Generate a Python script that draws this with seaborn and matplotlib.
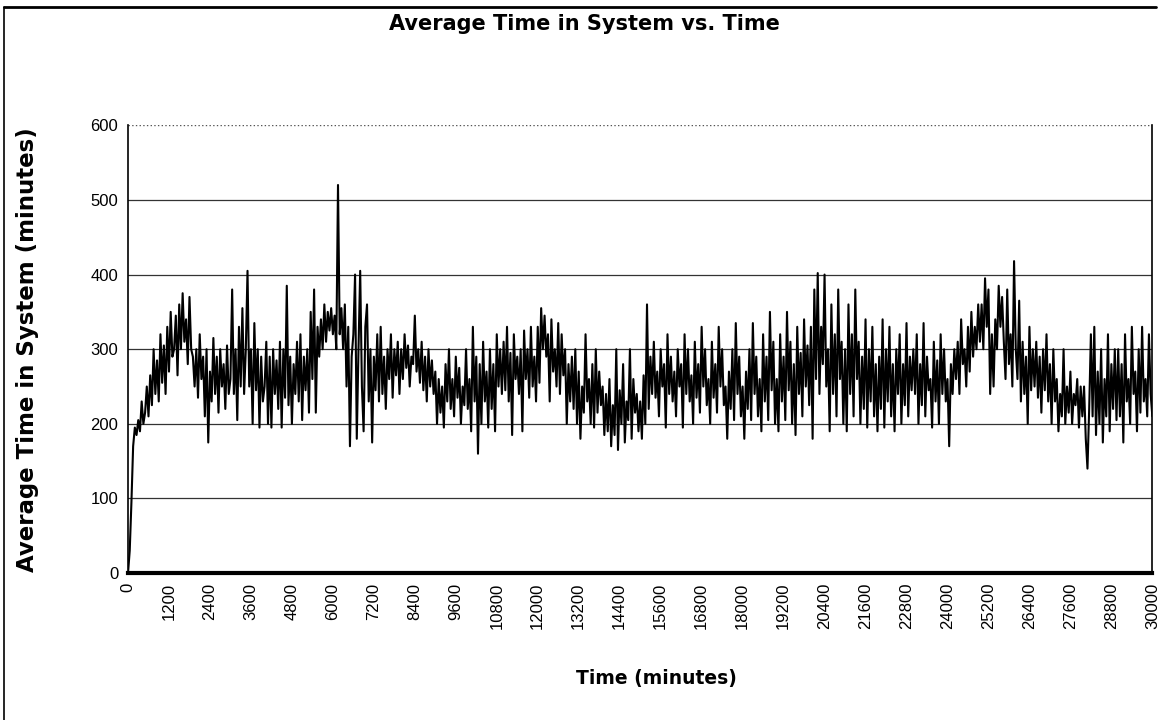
import numpy as np
import pandas as pd
import matplotlib
matplotlib.use("Agg")
import matplotlib.pyplot as plt
import seaborn as sns
from matplotlib.lines import Line2D

# sample times (minutes), one reading every 50 minutes
time_min = np.arange(0, 30001, 50)

# average time in system, 20 readings per 1000 minutes
avg_time = [
    0, 30, 95, 170, 195, 185, 205, 190, 230, 200, 215, 250, 210, 265, 225, 300, 240, 285, 230, 320,
    255, 305, 240, 330, 270, 350, 290, 300, 345, 265, 360, 300, 375, 310, 340, 280, 370, 300, 290, 250,
    300, 235, 320, 260, 290, 210, 300, 175, 270, 230, 315, 240, 290, 215, 300, 250, 280, 220, 305, 240,
    260, 380, 240, 300, 205, 330, 250, 355, 240, 300, 405, 250, 300, 200, 335, 245, 300, 195, 290, 230,
    250, 310, 200, 290, 195, 300, 240, 285, 220, 310, 195, 300, 235, 385, 225, 290, 200, 280, 240, 310,
    230, 320, 205, 290, 245, 300, 215, 350, 260, 380, 215, 330, 290, 340, 300, 360, 310, 350, 325, 355,
    320, 345, 300, 520, 320, 355, 300, 360, 250, 330, 170, 290, 320, 400, 180, 300, 405, 250, 190, 330,
    360, 230, 300, 175, 290, 245, 320, 230, 330, 240, 290, 220, 300, 260, 320, 235, 300, 265, 310, 240,
    300, 260, 320, 275, 305, 250, 290, 280, 345, 270, 300, 255, 310, 245, 290, 230, 300, 250, 285, 240,
    270, 200, 260, 215, 250, 195, 280, 230, 300, 220, 260, 210, 290, 235, 275, 200, 250, 225, 300, 220,
    260, 190, 330, 230, 290, 160, 280, 200, 310, 230, 270, 195, 300, 220, 280, 190, 320, 250, 300, 240,
    310, 245, 330, 230, 295, 185, 320, 260, 290, 240, 300, 190, 325, 260, 300, 235, 330, 250, 290, 230,
    330, 255, 355, 300, 345, 290, 320, 230, 340, 270, 300, 250, 335, 240, 320, 265, 300, 200, 280, 230,
    290, 220, 300, 200, 270, 180, 250, 215, 320, 230, 260, 200, 280, 195, 300, 215, 270, 225, 250, 185,
    240, 190, 260, 170, 225, 185, 300, 165, 245, 200, 280, 175, 230, 205, 300, 180, 260, 215, 240, 190,
    230, 180, 265, 200, 360, 220, 290, 240, 310, 235, 270, 210, 300, 250, 280, 195, 320, 240, 290, 230,
    270, 210, 300, 250, 280, 195, 320, 240, 300, 230, 265, 200, 310, 235, 280, 215, 330, 250, 300, 225,
    260, 200, 310, 235, 280, 215, 330, 250, 300, 225, 250, 180, 270, 220, 300, 205, 335, 240, 290, 210,
    250, 180, 270, 220, 300, 205, 335, 240, 290, 210, 260, 190, 320, 230, 290, 205, 350, 245, 310, 200,
    260, 190, 320, 230, 290, 205, 350, 245, 310, 200, 280, 185, 330, 240, 295, 210, 340, 250, 305, 225,
    330, 180, 380, 260, 402, 240, 330, 280, 400, 250, 300, 190, 360, 240, 320, 210, 380, 260, 310, 200,
    300, 190, 360, 240, 320, 210, 380, 260, 310, 200, 290, 220, 340, 195, 300, 230, 330, 210, 280, 190,
    290, 220, 340, 195, 300, 230, 330, 210, 280, 190, 300, 240, 320, 200, 280, 225, 335, 210, 290, 245,
    300, 240, 320, 200, 280, 225, 335, 210, 290, 245, 260, 195, 310, 230, 285, 200, 320, 240, 300, 230,
    260, 170, 280, 240, 300, 260, 310, 240, 340, 280, 300, 250, 330, 270, 350, 290, 330, 300, 360, 310,
    360, 300, 395, 330, 380, 240, 320, 250, 340, 300, 385, 330, 370, 310, 260, 380, 280, 320, 250, 418,
    300, 260, 365, 230, 310, 240, 290, 200, 330, 245, 300, 250, 310, 235, 290, 215, 300, 245, 320, 230,
    280, 200, 300, 230, 260, 190, 240, 210, 300, 200, 250, 215, 270, 200, 240, 225, 260, 195, 250, 210,
    250, 180, 140, 220, 320, 210, 330, 185, 270, 200, 300, 175, 260, 210, 320, 190, 280, 220, 300, 205,
    300, 210, 280, 175, 320, 230, 260, 200, 330, 240, 270, 190, 300, 215, 330, 230, 260, 210, 320, 240,
    210,
]
assert len(avg_time) == len(time_min)

x_ticks = list(range(0, 30001, 1200))
y_ticks = [0, 100, 200, 300, 400, 500, 600]

df = pd.DataFrame({"Time": time_min, "AvgTime": avg_time})

sns.set_theme(style="white")
plt.rcParams["font.family"] = ["Liberation Sans", "DejaVu Sans"]
plt.rcParams["text.color"] = "black"
plt.rcParams["axes.labelcolor"] = "black"
plt.rcParams["xtick.color"] = "black"
plt.rcParams["ytick.color"] = "black"

fig = plt.figure(figsize=(11.68, 7.2), dpi=100)
ax = fig.add_axes([0.1096, 0.204, 0.877, 0.622])

sns.lineplot(data=df, x="Time", y="AvgTime", color="black", linewidth=1.5, ax=ax)

# gridlines
for y in y_ticks[1:-1]:
    ax.axhline(y, color="#333333", linewidth=0.9, zorder=0)
ax.axhline(600, color="#555555", linewidth=1.0, linestyle=":", zorder=0)

ax.set_xlim(0, 30000)
ax.set_ylim(0, 600)
ax.set_xticks(x_ticks)
ax.set_xticklabels([str(t) for t in x_ticks], rotation=90, fontsize=12)
ax.set_yticks(y_ticks)
ax.set_yticklabels([str(t) for t in y_ticks], fontsize=12)
ax.tick_params(axis="both", direction="out", length=4, width=1, color="black", pad=3)

for side in ["left", "right"]:
    ax.spines[side].set_color("black")
    ax.spines[side].set_linewidth(1.2)
ax.spines["bottom"].set_color("black")
ax.spines["bottom"].set_linewidth(3)
ax.spines["top"].set_visible(False)

fig.text(0.5, 0.967, "Average Time in System vs. Time", ha="center", va="center",
         fontsize=15, fontweight="semibold", family="DejaVu Sans")
ax.set_xlabel("Time (minutes)", fontsize=13.5, fontweight="bold", family="DejaVu Sans")
ax.set_ylabel("Average Time in System (minutes)", fontsize=16.5, fontweight="bold", family="DejaVu Sans")
ax.xaxis.set_label_coords(0.516, -0.215)
ax.yaxis.set_label_coords(-0.087, 0.5)

# outer chart frame (left and top edges visible in the scan)
fig.add_artist(Line2D([0.003, 0.003], [0.0, 0.99], color="black", linewidth=1.2))
fig.add_artist(Line2D([0.003, 0.99], [0.99, 0.99], color="black", linewidth=2.0))

fig.savefig("out.png", dpi=100)
